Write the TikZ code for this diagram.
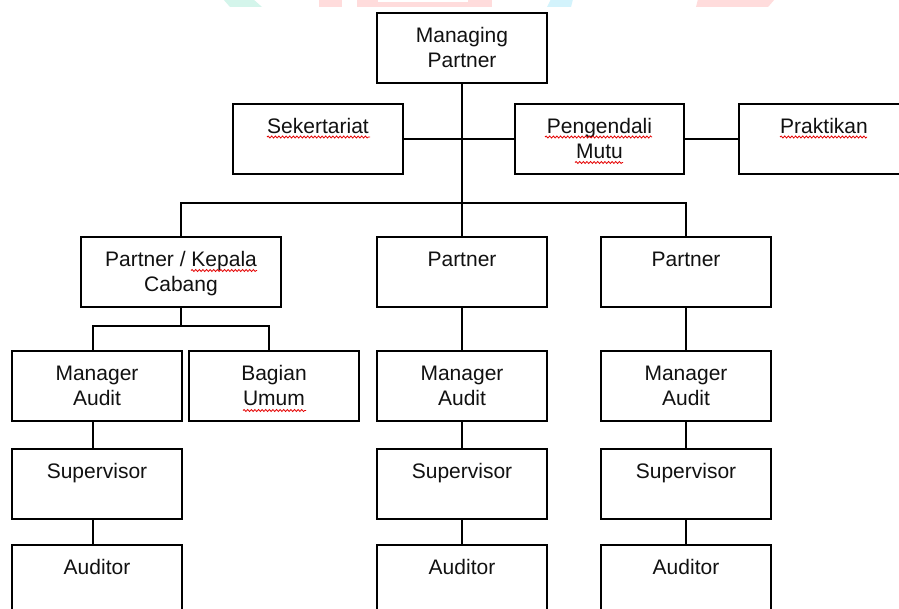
\documentclass[tikz,border=0pt]{standalone}
\usepackage{fontspec}
\setmainfont{Liberation Sans}
\usetikzlibrary{decorations.pathmorphing}
\definecolor{wmgreen}{HTML}{D4F5EB}
\definecolor{wmred}{HTML}{FFDCDC}
\definecolor{wmcyan}{HTML}{D3F3FC}
\definecolor{txt}{HTML}{111111}
\begin{document}
\begin{tikzpicture}[x=1pt,y=-1pt,
  box/.style={draw=black, line width=2pt, minimum width=170pt, minimum height=70pt, inner sep=0pt},
  lbl/.style={anchor=north, inner sep=0pt, align=center, text=txt, font=\fontsize{21}{25}\selectfont},
  conn/.style={line width=2pt, black},
  wave/.style={red!90!black, line width=0.8pt, decorate, decoration={snake, amplitude=1pt, segment length=3.6pt}}]
\useasboundingbox (0,0) rectangle (899,609);
\fill[white] (0,0) rectangle (899,609);
% watermark fragments
\fill[wmgreen] (223,-1) -- (253,-1) -- (262,7) -- (230,7) -- cycle;
\fill[wmred] (319,-1) rectangle (342,7);
\fill[wmred] (357,-1) rectangle (492,7);
\fill[white] (378,-1) rectangle (468,2);
\fill[wmcyan] (551,-1) -- (573,-1) -- (571,7) -- (547,7) -- cycle;
\fill[wmred] (698,-1) -- (775,-1) -- (768,7) -- (696,7) -- cycle;
% boxes
\node[box] (mp) at (462,48) {};
\node[box] (sek) at (318,139) {};
\node[box, minimum width=169pt] (pm) at (599.5,139) {};
\node[box] (prak) at (824,139) {};
\node[box, minimum width=200pt] (pk) at (181,272) {};
\node[box] (p2) at (462,272) {};
\node[box] (p3) at (686,272) {};
\node[box] (ma1) at (97,386) {};
\node[box] (bu) at (274,386) {};
\node[box] (ma2) at (462,386) {};
\node[box] (ma3) at (686,386) {};
\node[box] (sup1) at (97,484) {};
\node[box] (sup2) at (462,484) {};
\node[box] (sup3) at (686,484) {};
\node[box] (aud1) at (97,580) {};
\node[box] (aud2) at (462,580) {};
\node[box] (aud3) at (686,580) {};
% labels
\node[lbl] (mpl) at ([yshift=-15.5pt]mp.north) {Managing\\Partner};
\node[lbl] (sekl) at ([yshift=-15.5pt]sek.north) {Sekertariat};
\node[lbl] (pml) at ([yshift=-15.5pt]pm.north) {Pengendali\\Mutu};
\node[lbl] (prakl) at ([yshift=-15.5pt]prak.north) {Praktikan};
\node[lbl] (pkl) at ([yshift=-15.5pt]pk.north) {Partner / Kepala\\Cabang};
\node[lbl] (p2l) at ([yshift=-15.5pt]p2.north) {Partner};
\node[lbl] (p3l) at ([yshift=-15.5pt]p3.north) {Partner};
\node[lbl] (ma1l) at ([yshift=-15.5pt]ma1.north) {Manager\\Audit};
\node[lbl] (bul) at ([yshift=-15.5pt]bu.north) {Bagian\\Umum};
\node[lbl] (ma2l) at ([yshift=-15.5pt]ma2.north) {Manager\\Audit};
\node[lbl] (ma3l) at ([yshift=-15.5pt]ma3.north) {Manager\\Audit};
\node[lbl] (sup1l) at ([yshift=-15.5pt]sup1.north) {Supervisor};
\node[lbl] (sup2l) at ([yshift=-15.5pt]sup2.north) {Supervisor};
\node[lbl] (sup3l) at ([yshift=-15.5pt]sup3.north) {Supervisor};
\node[lbl] (aud1l) at ([yshift=-15.5pt]aud1.north) {Auditor};
\node[lbl] (aud2l) at ([yshift=-15.5pt]aud2.north) {Auditor};
\node[lbl] (aud3l) at ([yshift=-15.5pt]aud3.north) {Auditor};
% spell-check underlines
\draw[wave] (267,137) -- (370,137);
\draw[wave] (545,137) -- (652,137);
\draw[wave] (575,162.5) -- (623,162.5);
\draw[wave] (780,137) -- (867,137);
\draw[wave] (191,270.5) -- (257,270.5);
\draw[wave] (243,410.5) -- (306,410.5);
% connectors
\coordinate (hbar) at (0,203);
\coordinate (pkbar) at (0,326);
\draw[conn] (mp.south) -- (p2.north);
\draw[conn] (sek.east) -- (pm.west);
\draw[conn] (pm.east) -- (prak.west);
\draw[conn] (pk.north) |- (p3.north |- hbar) -- (p3.north);
\draw[conn] (pk.south) -- (pk.south |- pkbar);
\draw[conn] ([xshift=-4pt]ma1.north) |- ([xshift=-5pt]bu.north |- pkbar) -- ([xshift=-5pt]bu.north);
\draw[conn] ([xshift=-4pt]ma1.south) -- ([xshift=-4pt]sup1.north);
\draw[conn] ([xshift=-4pt]sup1.south) -- ([xshift=-4pt]aud1.north);
\draw[conn] (p2.south) -- (ma2.north);
\draw[conn] (ma2.south) -- (sup2.north);
\draw[conn] (sup2.south) -- (aud2.north);
\draw[conn] (p3.south) -- (ma3.north);
\draw[conn] (ma3.south) -- (sup3.north);
\draw[conn] (sup3.south) -- (aud3.north);
\end{tikzpicture}
\end{document}
